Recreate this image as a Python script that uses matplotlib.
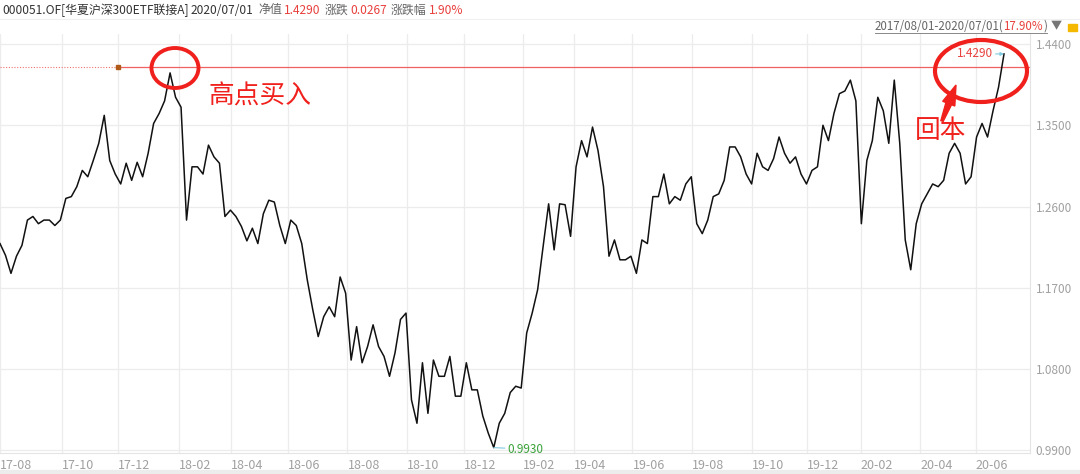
import numpy as np
import pandas as pd
import matplotlib
matplotlib.use("Agg")
import matplotlib.pyplot as plt
from matplotlib.patches import Ellipse, Polygon, Rectangle

plt.rcParams['font.family'] = ['Noto Sans CJK SC', 'DejaVu Sans']

# ---------------- data (net value, sampled every ~4 trading days) ----------------
nav_2017_2018a = [1.219, 1.206, 1.186, 1.205, 1.217, 1.245, 1.249, 1.241, 1.245, 1.245,
                  1.239, 1.245, 1.269, 1.271, 1.282, 1.300, 1.293, 1.311, 1.330, 1.361,
                  1.311, 1.296, 1.285, 1.308, 1.289, 1.309, 1.293, 1.319, 1.352, 1.363,
                  1.377, 1.408, 1.381, 1.370, 1.245, 1.304, 1.304, 1.296, 1.328, 1.315,
                  1.308, 1.249, 1.256, 1.249, 1.238, 1.222, 1.236, 1.219, 1.252, 1.267]
nav_2018b = [1.265, 1.239, 1.219, 1.245, 1.239, 1.219, 1.179, 1.146, 1.116, 1.138,
             1.149, 1.138, 1.182, 1.164, 1.090, 1.127, 1.087, 1.105, 1.129, 1.105,
             1.094, 1.072, 1.098, 1.135, 1.142, 1.046, 1.020, 1.087, 1.031, 1.090,
             1.072, 1.072, 1.094, 1.050, 1.050, 1.087, 1.057, 1.057, 1.028, 1.009,
             0.993, 1.020, 1.031, 1.054, 1.061, 1.059, 1.120]
nav_2019 = [1.142, 1.168, 1.216, 1.263, 1.212, 1.263, 1.262, 1.227, 1.304, 1.333,
            1.315, 1.348, 1.322, 1.282, 1.205, 1.223, 1.201, 1.201, 1.205, 1.186,
            1.223, 1.219, 1.271, 1.271, 1.296, 1.263, 1.271, 1.267, 1.285, 1.293,
            1.241, 1.230, 1.245, 1.271, 1.274, 1.289, 1.326, 1.326, 1.315, 1.296,
            1.285, 1.319, 1.304, 1.300, 1.313, 1.337, 1.319]
nav_2020 = [1.308, 1.315, 1.296, 1.285, 1.300, 1.304, 1.350, 1.333, 1.363, 1.385,
            1.388, 1.400, 1.377, 1.241, 1.311, 1.333, 1.381, 1.366, 1.330, 1.400,
            1.330, 1.223, 1.190, 1.241, 1.263, 1.274, 1.285, 1.282, 1.289, 1.319,
            1.330, 1.319, 1.285, 1.293, 1.337, 1.352, 1.337, 1.366, 1.392, 1.429]
nav = np.array(nav_2017_2018a + nav_2018b + nav_2019 + nav_2020)

y_ticks = [1.44, 1.35, 1.26, 1.17, 1.08, 0.99]
high_buy = 1.414
last_val, min_val = 1.4290, 0.9930
start_date, end_date = "2017-08-01", "2020-07-01"

header_parts = [("000051.OF[华夏沪深300ETF联接A]", "#333333", 0),
                ("2020/07/01", "#333333", 189),
                ("净值", "#666666", 258),
                ("1.4290", "#e8403c", 282),
                ("涨跌", "#666666", 325),
                ("0.0267", "#e8403c", 348),
                ("涨跌幅", "#666666", 391),
                ("1.90%", "#e8403c", 428)]
range_parts = [("2017/08/01-2020/07/01(", "#666666"), ("17.90%", "#e8403c"), (")", "#666666")]

# Chinese market holidays (weekdays)
holidays = ["2017-10-02", "2017-10-03", "2017-10-04", "2017-10-05", "2017-10-06",
            "2018-01-01", "2018-02-15", "2018-02-16", "2018-02-19", "2018-02-20", "2018-02-21",
            "2018-04-05", "2018-04-06", "2018-04-30", "2018-05-01", "2018-06-18", "2018-09-24",
            "2018-10-01", "2018-10-02", "2018-10-03", "2018-10-04", "2018-10-05", "2018-12-31",
            "2019-01-01", "2019-02-04", "2019-02-05", "2019-02-06", "2019-02-07", "2019-02-08",
            "2019-04-05", "2019-05-01", "2019-05-02", "2019-05-03", "2019-06-07", "2019-09-13",
            "2019-10-01", "2019-10-02", "2019-10-03", "2019-10-04", "2019-10-07",
            "2020-01-01", "2020-01-24", "2020-01-27", "2020-01-28", "2020-01-29", "2020-01-30",
            "2020-01-31", "2020-04-06", "2020-05-01", "2020-05-04", "2020-05-05",
            "2020-06-25", "2020-06-26"]

days = pd.bdate_range(start_date, end_date)
days = days[~days.isin(pd.to_datetime(holidays))]
N = len(days)
xs = np.linspace(0, N - 1, len(nav))

tick_pos, tick_lab = [], []
for per in pd.period_range("2017-08", "2020-06", freq="2M"):
    m = (days.year == per.year) & (days.month == per.month)
    tick_pos.append(int(np.argmax(m)))
    tick_lab.append(per.strftime("%y-%m"))

# ---------------- figure ----------------
W, H = 1080, 474
fig = plt.figure(figsize=(W / 100, H / 100), dpi=100)
left_px, right_px, top_px, bot_px = 0, 1030, 34, 453
ax = fig.add_axes([left_px / W, 1 - bot_px / H, (right_px - left_px) / W, (bot_px - top_px) / H])

end_px = 1004
xmax = (N - 1) * (right_px - left_px) / end_px
ax.set_xlim(0, xmax)
ax.set_ylim(1.44 - (bot_px - 44) / 903, 1.44 + (44 - top_px) / 903)

grid_c = "#ececec"
for yv in y_ticks:
    ax.axhline(yv, color=grid_c, lw=0.9, zorder=0)
for xp in tick_pos:
    ax.axvline(xp, color=grid_c, lw=0.9, zorder=0)

ax.plot(xs, nav, color="#111111", lw=1.1, zorder=3)

x_mark = tick_pos[2]
ax.plot([0, x_mark], [high_buy, high_buy], color="#f07070", lw=0.8, ls=(0, (1, 1.5)), zorder=2)
ax.plot([x_mark, xmax], [high_buy, high_buy], color="#f26161", lw=0.9, zorder=2)
ax.plot([x_mark], [high_buy], marker="s", ms=3, color="#b05a1a", zorder=4)

ax.yaxis.tick_right()
ax.set_yticks(y_ticks)
ax.set_yticklabels([f"{v:.4f}" for v in y_ticks], color="#a0a0a0", fontsize=8.5)
ax.set_xticks(tick_pos)
ax.set_xticklabels(tick_lab, color="#a0a0a0", fontsize=9, ha="left")
ax.tick_params(axis="y", length=0, pad=4)
ax.tick_params(axis="x", length=0, pad=4)
for s in ["top", "left"]:
    ax.spines[s].set_visible(False)
ax.spines["right"].set_color("#e4e4e4")
ax.spines["bottom"].set_color("#e4e4e4")

ax.annotate("1.4290", xy=(xs[-1], last_val), xytext=(-8, 0), textcoords="offset points",
            ha="right", va="center", color="#e8403c", fontsize=8.5,
            arrowprops=dict(arrowstyle="-|>", color="#7fcbe0", lw=0.8, mutation_scale=5,
                            shrinkA=0, shrinkB=0))
imin = int(np.argmin(nav))
ax.annotate("0.9930", xy=(xs[imin], min_val), xytext=(10, -1), textcoords="offset points",
            ha="left", va="center", color="#3aa23a", fontsize=8.5,
            arrowprops=dict(arrowstyle="-", color="#7fcbe0", lw=0.8, shrinkA=0, shrinkB=0))

def fx(px):
    return px / W
def fy(py):
    return 1 - py / H

red = "#f0201c"
e1 = Ellipse((fx(175), fy(68)), 47 / W, 40 / H, transform=fig.transFigure,
             fill=False, ec=red, lw=2.8, zorder=10)
e2 = Ellipse((fx(981), fy(71)), 92 / W, 62 / H, transform=fig.transFigure,
             fill=False, ec=red, lw=3.0, zorder=10)
fig.patches.extend([e1, e2])
fig.text(fx(208), fy(97), "高点买入", color=red, fontsize=18.5, ha="left", va="center")
fig.text(fx(915), fy(131), "回本", color=red, fontsize=18.5, ha="left", va="center")

# thick wedge arrow from 回本 up to the ellipse (pixel geometry)
tail = np.array([942.0, 121.0])
tip = np.array([956.0, 85.0])
d = (tip - tail) / np.linalg.norm(tip - tail)
p = np.array([-d[1], d[0]])
base = tip - d * 20
pts_px = [tail + p * 1.2, base + p * 3.0, base + p * 6.5, tip,
          base - p * 6.5, base - p * 3.0, tail - p * 1.2]
pts = [(fx(a), fy(b)) for a, b in pts_px]
fig.patches.append(Polygon(pts, closed=True, transform=fig.transFigure, color=red, zorder=10))

# header, laid out piece by piece
fig.canvas.draw()
renderer = fig.canvas.get_renderer()
hy = fy(10)
fs = 8.6
prev_end = 0
for txt, col, ref_x in header_parts:
    x0 = max(ref_x, prev_end + 2)
    t = fig.text(fx(x0), hy, txt, color=col, fontsize=fs, va="center")
    bb = t.get_window_extent(renderer)
    prev_end = bb.x1
fig.add_artist(plt.Line2D([0, 1], [fy(19), fy(19)], transform=fig.transFigure, color="#f0f0f0", lw=0.8))

# range label, right-aligned at x=1047
ry = fy(26)
x_right = 1047
for txt, col in reversed(range_parts):
    t = fig.text(fx(x_right), ry, txt, color=col, fontsize=8.3, va="center", ha="right")
    bb = t.get_window_extent(renderer)
    x_right = bb.x0
fig.add_artist(plt.Line2D([fx(x_right), fx(1047)], [fy(33), fy(33)], transform=fig.transFigure,
                          color="#888888", lw=0.7))
fig.text(fx(1051), ry, "▼", color="#777777", fontsize=8, va="center")
fig.patches.append(Rectangle((fx(1068), fy(31)), 9 / W, 7 / H, transform=fig.transFigure,
                             color="#f5b800", zorder=10))

fig.patches.append(Rectangle((0, 0), 1, 4 / H, transform=fig.transFigure, color="#ececec"))

fig.savefig("out.png", dpi=100)
